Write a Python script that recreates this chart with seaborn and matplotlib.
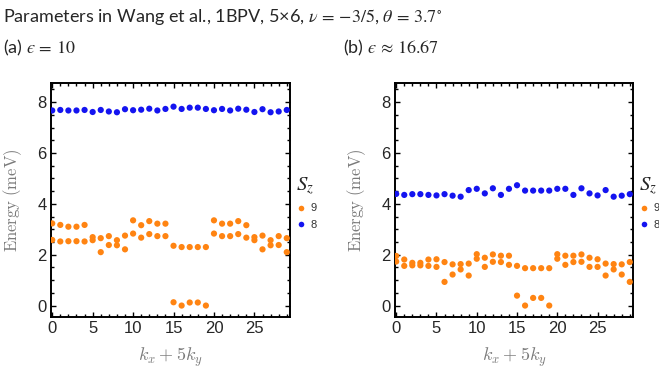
import matplotlib
matplotlib.use("Agg")
import matplotlib.pyplot as plt
from matplotlib.ticker import MultipleLocator
import numpy as np
import pandas as pd
import seaborn as sns

# momentum index k = kx + 5 ky on the 5x6 cluster
k = list(range(30))

# (a) epsilon = 10
a_sz9_upper = [3.23, 3.17, 3.10, 3.10, 3.17, 2.69, 2.65, 2.73, 2.57, 2.75,
               3.35, 3.16, 3.32, 3.22, 3.22, 2.35, 2.30, 2.30, 2.30, 2.30,
               3.35, 3.22, 3.22, 3.32, 3.16, 2.69, 2.75, 2.57, 2.73, 2.65]
a_sz9_lower = [2.58, 2.52, 2.53, 2.53, 2.52, 2.57, 2.10, 2.38, 2.37, 2.21,
               2.83, 2.67, 2.81, 2.73, 2.73, 0.13, 0.00, 0.12, 0.12, 0.00,
               2.83, 2.73, 2.73, 2.81, 2.67, 2.57, 2.21, 2.37, 2.38, 2.10]
a_sz8 = [7.67, 7.69, 7.67, 7.67, 7.69, 7.61, 7.69, 7.63, 7.60, 7.72,
         7.68, 7.70, 7.74, 7.67, 7.73, 7.82, 7.73, 7.78, 7.78, 7.73,
         7.68, 7.73, 7.67, 7.74, 7.70, 7.61, 7.72, 7.60, 7.63, 7.69]

# (b) epsilon ~ 16.67
b_sz9_upper = [1.95, 1.81, 1.68, 1.68, 1.81, 1.82, 1.71, 1.62, 1.63, 1.65,
               2.02, 1.88, 2.01, 1.96, 1.96, 1.56, 1.47, 1.47, 1.47, 1.47,
               2.02, 1.96, 1.96, 2.01, 1.88, 1.82, 1.65, 1.63, 1.62, 1.71]
b_sz9_lower = [1.73, 1.56, 1.58, 1.58, 1.56, 1.52, 0.93, 1.22, 1.42, 1.18,
               1.84, 1.52, 1.72, 1.71, 1.60, 0.39, 0.00, 0.30, 0.30, 0.00,
               1.84, 1.60, 1.71, 1.72, 1.52, 1.52, 1.18, 1.42, 1.22, 0.93]
b_sz8 = [4.39, 4.35, 4.38, 4.38, 4.35, 4.33, 4.38, 4.32, 4.28, 4.54,
         4.59, 4.41, 4.61, 4.35, 4.59, 4.73, 4.52, 4.52, 4.52, 4.52,
         4.59, 4.59, 4.35, 4.61, 4.41, 4.33, 4.54, 4.28, 4.32, 4.38]

sz_labels = ["9", "8"]
x_ticks = [0, 5, 10, 15, 20, 25]
y_ticks = [0, 2, 4, 6, 8]

ORANGE = "#ff8412"
BLUE = "#1414f0"
GRAY = "#7a7a7a"


def spectrum_frame(upper9, lower9, e8):
    rows = []
    for kk, u, l, b in zip(k, upper9, lower9, e8):
        rows.append((kk, u, "9"))
        rows.append((kk, l, "9"))
        rows.append((kk, b, "8"))
    return pd.DataFrame(rows, columns=["k", "E", "Sz"])


sns.set_theme(style="ticks")
plt.rcParams["font.family"] = ["Liberation Sans", "DejaVu Sans"]
plt.rcParams["mathtext.fontset"] = "cm"

fig = plt.figure(figsize=(6.59, 3.68), dpi=100)
W, H = 659, 368


def px_axes(left, top, right, bottom):
    return fig.add_axes([left / W, 1 - bottom / H, (right - left) / W, (bottom - top) / H])


ax_a = px_axes(51, 83, 290, 317)
ax_b = px_axes(395, 83, 633, 317)

panels = [
    (ax_a, spectrum_frame(a_sz9_upper, a_sz9_lower, a_sz8)),
    (ax_b, spectrum_frame(b_sz9_upper, b_sz9_lower, b_sz8)),
]

for ax, df in panels:
    sns.scatterplot(data=df, x="k", y="E", hue="Sz", hue_order=sz_labels,
                    palette={"9": ORANGE, "8": BLUE}, s=20, linewidth=0,
                    ax=ax, zorder=3)
    ax.set_xlim(-0.15, 29.4)
    ax.set_ylim(-0.45, 8.75)
    ax.set_xticks(x_ticks)
    ax.set_yticks(y_ticks)
    ax.xaxis.set_minor_locator(MultipleLocator(1))
    ax.yaxis.set_minor_locator(MultipleLocator(0.5))
    ax.tick_params(which="both", direction="in", top=True, right=True,
                   color="black", width=1.0)
    ax.tick_params(which="major", length=3.5, labelsize=12, pad=3)
    ax.tick_params(which="minor", length=2)
    for sp in ax.spines.values():
        sp.set_linewidth(1.4)
        sp.set_color("black")
    ax.set_xlabel(r"$k_x + 5k_y$", fontsize=13, color=GRAY, labelpad=7)
    ax.set_ylabel(r"$\mathrm{Energy\ (meV)}$", fontsize=12, color=GRAY)
    ax.yaxis.set_label_coords(-0.115, 0.5)
    sns.move_legend(ax, "upper left", bbox_to_anchor=(1.005, 0.625),
                    title=r"$S_z$", frameon=False, fontsize=8,
                    title_fontsize=15, handletextpad=0.3, handlelength=1.0,
                    labelspacing=0.6, borderaxespad=0, alignment="left",
                    markerscale=0.9)
    leg = ax.get_legend()
    leg.get_title().set_math_fontfamily("stix")
    for t in leg.get_texts():
        t.set_color("#333333")

title_kw = dict(fontsize=13, family=["Lato", "DejaVu Sans"],
                math_fontfamily="stix", va="baseline", ha="left")
fig.text(3 / W, 1 - 22 / H,
         r"Parameters in Wang et al., 1BPV, 5×6, $\nu\,=\,{-}3/5$, $\theta\,=\,3.7^{\circ}$",
         **title_kw)
fig.text(3 / W, 1 - 53 / H, "(a) $\u03f5\\,=\\,10$", **title_kw)
fig.text(343 / W, 1 - 53 / H, "(b) $\u03f5\\,\\approx\\,16.67$", **title_kw)

fig.savefig("out.png", dpi=100)
